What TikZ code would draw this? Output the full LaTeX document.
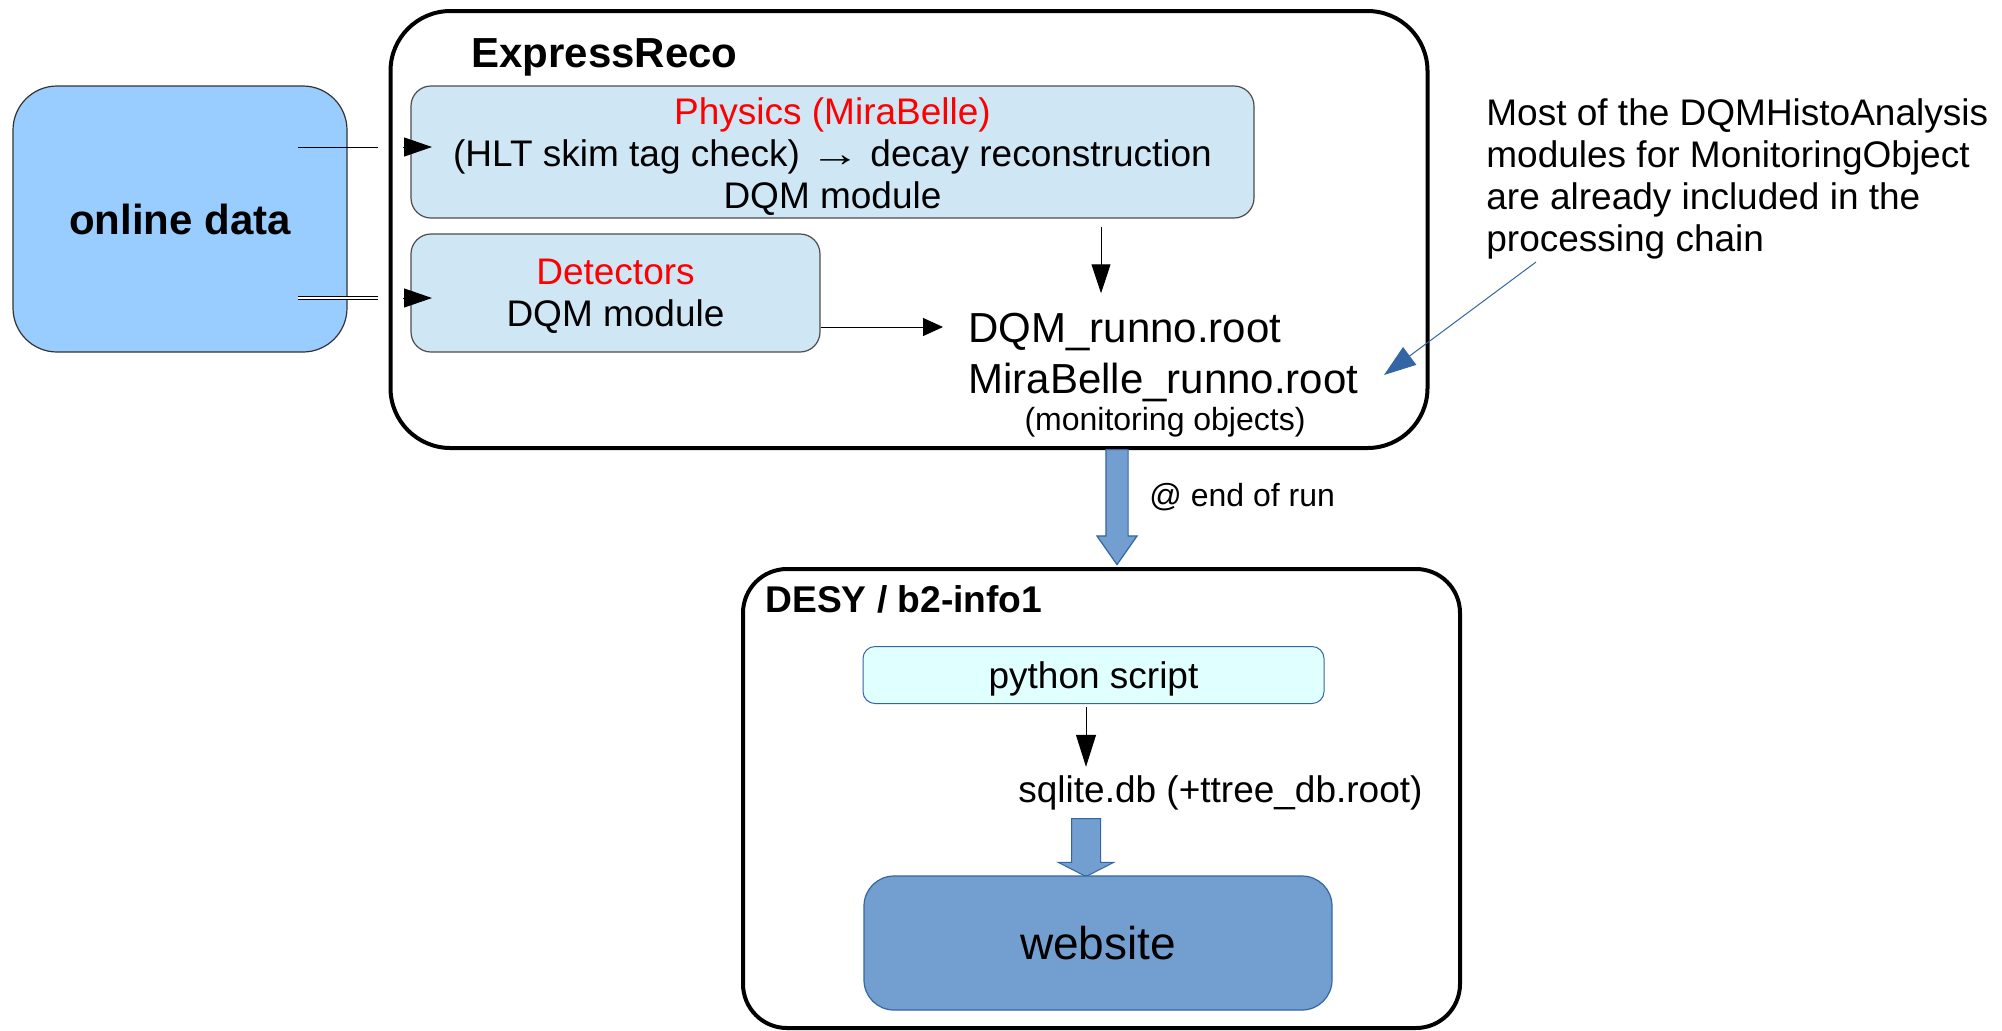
\documentclass[tikz,border=0pt]{standalone}
\usepackage{fontspec}
\setmainfont{Liberation Sans}
\usetikzlibrary{arrows.meta,shapes.arrows}
\definecolor{odfill}{HTML}{99CCFF}
\definecolor{palefill}{HTML}{CFE7F5}
\definecolor{cyanfill}{HTML}{E0FFFF}
\definecolor{bluemid}{HTML}{729FCF}
\definecolor{bluedark}{HTML}{3465A4}
\definecolor{redtxt}{HTML}{FF0000}
\newcommand\fbig{\fontsize{21pt}{25.5pt}\selectfont}
\newcommand\fmid{\fontsize{18.5pt}{21pt}\selectfont}
\newcommand\fsmall{\fontsize{16pt}{19pt}\selectfont}
\begin{document}
\begin{tikzpicture}[x=0.5pt,y=-0.5pt,
  container/.style={draw=black,line width=2pt,fill=white,inner sep=0pt},
  modbox/.style={draw=black!70,line width=0.6pt,fill=palefill,rounded corners=10pt,align=center,font=\fmid,inner sep=0pt},
  txt/.style={inner sep=0pt},
  thinline/.style={line width=0.5pt},
  blockarrow/.style={single arrow,draw=bluedark,fill=bluemid,line width=0.6pt,rotate=-90,anchor=tail,minimum width=0pt,single arrow head indent=0pt}
]
\useasboundingbox (0,0) rectangle (2002,1030);

% ExpressReco container
\node[container,rounded corners=30pt,minimum width=518.5pt,minimum height=218.5pt] (er) at (909,229.5) {};
\node[txt,font=\fbig\bfseries,anchor=base west] (ertitle) at (471,67) {ExpressReco};

% online data
\node[draw=black!80,line width=0.6pt,fill=odfill,rounded corners=22pt,minimum width=167pt,minimum height=133pt,inner sep=0pt,font=\fbig\bfseries] (od) at (180,219) {online data};

% modules
\node[modbox,minimum width=421.5pt,minimum height=66pt] (phys) at (832.5,152)
  {\rule{0pt}{17.5pt}\textcolor{redtxt}{Physics (MiraBelle)}\\(HLT skim tag check) \scalebox{1.35}[1]{→} decay reconstruction\\DQM module};
\node[modbox,minimum width=204.5pt,minimum height=59pt] (det) at (615.5,293)
  {\rule{0pt}{15.7pt}\textcolor{redtxt}{Detectors}\\DQM module};

% output files
\node[txt,font=\fbig,anchor=base west] (dqm) at (968,342) {DQM\_runno.root};
\node[txt,font=\fbig,anchor=base west] (mira) at (968,393) {MiraBelle\_runno.root};
\node[txt,font=\fsmall,anchor=base] (mon) at (1165,430) {(monitoring objects)};

% online data -> modules
\coordinate (ua) at (298,147); \coordinate (ub) at (378,147);
\coordinate (uc) at (403,147); \coordinate (ud) at (432,147);
\coordinate (la) at (298,298); \coordinate (lb) at (378,298);
\coordinate (lc) at (403,298); \coordinate (ld) at (432,298);
\draw[thinline] (ua) -- (ub);
\draw[thinline,-{Triangle[length=14pt,width=9.5pt]}] (uc) -- (ud);
\draw[line width=0.4pt,double,double distance=1.2pt] (la) -- (lb);
\draw[thinline,-{Triangle[length=14pt,width=9.5pt]}] (lc) -- (ld);

% modules -> files
\coordinate (px) at (1101,0);
\draw[thinline,-{Triangle[length=14.5pt,width=9.5pt]},shorten <=4pt,shorten >=9.5pt] (phys.south -| px) -- (dqm.north -| px);
\coordinate (dy) at (0,327);
\draw[thinline,-{Triangle[length=10pt,width=9pt]},shorten >=12.5pt] (det.east |- dy) -- (dqm.west |- dy);

% note
\node[txt,font=\fmid,align=left,anchor=north west] (note) at (1486,98)
  {Most of the DQMHistoAnalysis\\modules for MonitoringObject\\are already included in the\\processing chain};
\coordinate (nt) at (1536,262); \coordinate (nh) at (1384,375);
\draw[bluedark,line width=0.5pt,-{Triangle[length=16pt,width=11pt]}] (nt) -- (nh);

% end of run arrow
\node[blockarrow,minimum height=57.5pt,inner sep=5.25pt,single arrow head extend=4.5pt,single arrow tip angle=70] (endrun) at (1117,449) {};
\node[txt,font=\fsmall,anchor=base west] (endlbl) at (1149,506) {@ end of run};

% DESY container
\node[container,rounded corners=22pt,minimum width=358.5pt,minimum height=229.5pt] (desy) at (1101.5,798.5) {};
\node[txt,font=\fontsize{18.6pt}{21pt}\selectfont\bfseries,anchor=base west] (desytitle) at (765,612) {DESY / b2-info1};
\node[draw=bluedark,line width=0.5pt,fill=cyanfill,rounded corners=6pt,minimum width=230.5pt,minimum height=28.5pt,inner sep=0pt,font=\fmid] (py) at (1093.5,675) {\rule{0pt}{17.5pt}python script};
\node[txt,font=\fmid,anchor=base west] (sql) at (1018,802) {sqlite.db (+ttree\_db.root)};
\coordinate (qx) at (1086,0);
\draw[thinline,-{Triangle[length=16pt,width=10pt]},shorten <=1.5pt,shorten >=4pt] (py.south -| qx) -- (sql.north -| qx);
\node[blockarrow,line width=0.5pt,minimum height=29pt,inner sep=7pt,single arrow head extend=6.75pt,single arrow tip angle=126] (dbarrow) at (1086,818) {};
\node[draw=bluedark,line width=0.6pt,fill=bluemid,rounded corners=15pt,minimum width=234pt,minimum height=67pt,inner sep=0pt,font=\fontsize{23pt}{27pt}\selectfont] (web) at (1098,943) {website};
\end{tikzpicture}
\end{document}
